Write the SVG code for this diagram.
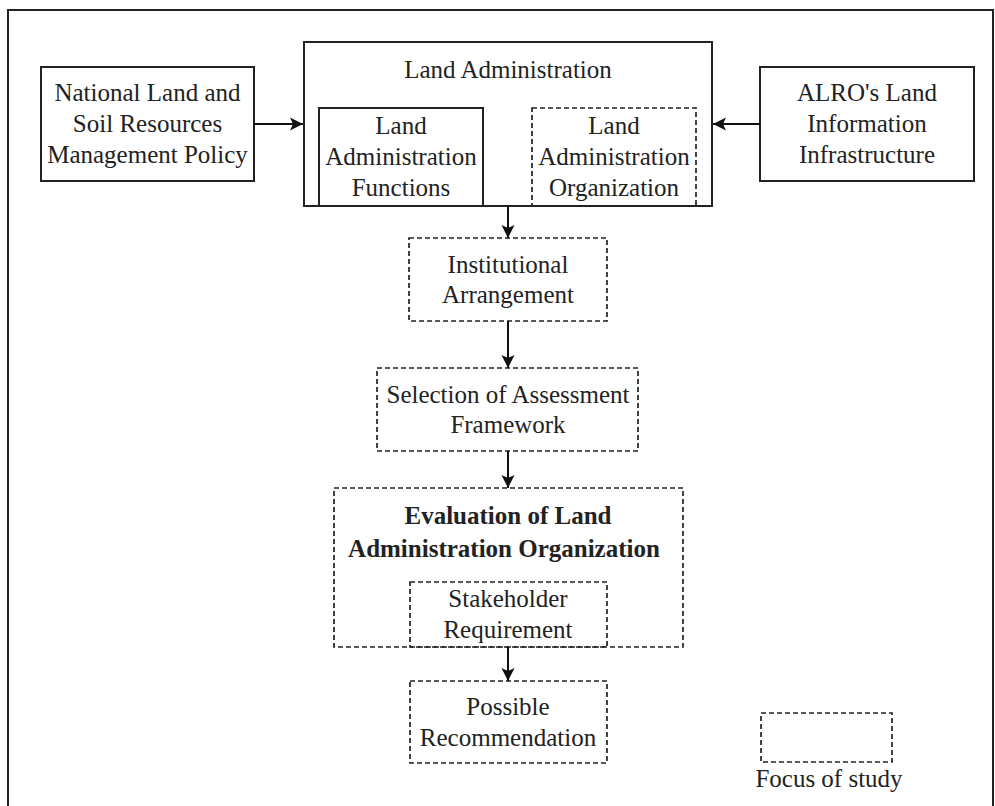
<svg xmlns="http://www.w3.org/2000/svg" width="995" height="806" viewBox="0 0 995 806" font-family="'Liberation Serif', 'Times New Roman', 'DejaVu Serif', serif">
  <style>
    .solid { fill: none; stroke: #222; stroke-width: 2; }
    .dash { fill: none; stroke: #222; stroke-width: 1.7; stroke-dasharray: 5 3; }
    .label { font-family: "Liberation Serif", "Times New Roman", "DejaVu Serif", serif; font-size: 25px; fill: #222; text-anchor: middle; }
    .bold { font-weight: bold; }
    .link { fill: none; stroke: #111; stroke-width: 2; }
  </style>
  <defs>
    <marker id="arrow" markerUnits="userSpaceOnUse" markerWidth="14" markerHeight="16" viewBox="0 -8 14 16" refX="13" refY="0" orient="auto">
      <path d="M0,-6.5 L13,0 L0,6.5 L3,0 Z" fill="#111"/>
    </marker>
  </defs>

  <rect width="995" height="806" fill="#fff"/>
  <!-- outer frame, open at the bottom edge of the page -->
  <rect x="8" y="10" width="985" height="810" class="solid"/>

  <g id="policy">
    <rect x="41" y="67" width="213" height="114" class="solid"/>
    <text class="label" x="147.5" y="101">National Land and</text>
    <text class="label" x="147.5" y="132">Soil Resources</text>
    <text class="label" x="147.5" y="163">Management Policy</text>
  </g>

  <g id="land-administration">
    <rect x="304" y="42" width="408" height="164" class="solid"/>
    <text class="label" x="508" y="78">Land Administration</text>
  </g>

  <g id="functions">
    <rect x="319" y="108" width="164" height="98" class="solid"/>
    <text class="label" x="401" y="134">Land</text>
    <text class="label" x="401" y="165">Administration</text>
    <text class="label" x="401" y="196">Functions</text>
  </g>

  <g id="organization">
    <rect x="532" y="108" width="164" height="98" class="dash"/>
    <text class="label" x="614" y="134">Land</text>
    <text class="label" x="614" y="165">Administration</text>
    <text class="label" x="614" y="196">Organization</text>
  </g>

  <g id="alro">
    <rect x="760" y="67" width="214" height="114" class="solid"/>
    <text class="label" x="867" y="101">ALRO's Land</text>
    <text class="label" x="867" y="132">Information</text>
    <text class="label" x="867" y="163">Infrastructure</text>
  </g>

  <g id="institutional">
    <rect x="409" y="238" width="198" height="83" class="dash"/>
    <text class="label" x="508" y="273">Institutional</text>
    <text class="label" x="508" y="303">Arrangement</text>
  </g>

  <g id="selection">
    <rect x="377" y="368" width="261" height="83" class="dash"/>
    <text class="label" x="508" y="403">Selection of Assessment</text>
    <text class="label" x="508" y="433">Framework</text>
  </g>

  <g id="evaluation">
    <rect x="334" y="488" width="349" height="159" class="dash"/>
    <text class="label bold" x="508" y="524">Evaluation of Land</text>
    <text class="label bold" x="504" y="557">Administration Organization</text>
  </g>

  <g id="stakeholder">
    <rect x="410" y="582" width="197" height="65" class="dash"/>
    <text class="label" x="508" y="607">Stakeholder</text>
    <text class="label" x="508" y="638">Requirement</text>
  </g>

  <g id="recommendation">
    <rect x="410" y="681" width="197" height="82" class="dash"/>
    <text class="label" x="508" y="715">Possible</text>
    <text class="label" x="508" y="746">Recommendation</text>
  </g>

  <g id="legend">
    <rect x="761" y="713" width="131" height="49" class="dash"/>
    <text class="label" x="829" y="787">Focus of study</text>
  </g>

  <g id="connectors">
    <line x1="254" y1="124" x2="303" y2="124" class="link" marker-end="url(#arrow)"/>
    <line x1="760" y1="124" x2="713" y2="124" class="link" marker-end="url(#arrow)"/>
    <line x1="508" y1="206" x2="508" y2="238" class="link" marker-end="url(#arrow)"/>
    <line x1="508" y1="321" x2="508" y2="368" class="link" marker-end="url(#arrow)"/>
    <line x1="508" y1="451" x2="508" y2="488" class="link" marker-end="url(#arrow)"/>
    <line x1="508" y1="647" x2="508" y2="681" class="link" marker-end="url(#arrow)"/>
  </g>
</svg>
